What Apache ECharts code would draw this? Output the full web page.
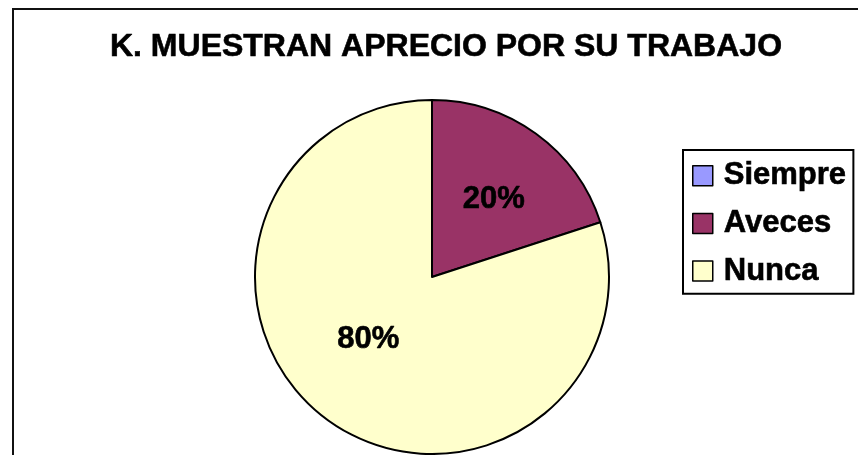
<!DOCTYPE html>
<html>
<head>
<meta charset="utf-8">
<style>
    html, body { margin: 0; padding: 0; background: #fff; }
    #psPie { width: 858px; height: 455px; }
</style>
</head>
<body>
<div id="psPie"></div>
<script src="https://cdn.jsdelivr.net/npm/echarts@6/dist/echarts.min.js"></script>
<script>
    // datos del grafico
    var categorias = ['Siempre', 'Aveces', 'Nunca'];
    var valores = [0, 20, 80];
    var colores = ['#9999FF', '#993366', '#FFFFCC'];
    var titulo = 'K. MUESTRAN APRECIO POR SU TRABAJO';

    var chart = echarts.init(document.getElementById('psPie'));

    var datos = [];
    for (var i = 0; i < categorias.length; i++) {
        datos.push({
            name: categorias[i],
            value: valores[i],
            itemStyle: { color: colores[i] },
            label: { show: valores[i] > 0 }
        });
    }

    var fuente = '"Liberation Sans", Arial, sans-serif';
    // trazo fino para engrosar un poco el texto
    var grueso = { textBorderColor: '#000', textBorderWidth: 0.6 };

    chart.setOption({
        animation: false,
        backgroundColor: '#fff',
        title: {
            text: titulo,
            left: 441,
            top: 26,
            textAlign: 'center',
            textStyle: Object.assign({ fontFamily: fuente, fontSize: 32, fontWeight: 'bold', color: '#000' }, grueso)
        },
        legend: {
            orient: 'vertical',
            left: 683,
            top: 150,
            padding: [10, 7, 7, 9],
            borderColor: '#000',
            borderWidth: 2,
            itemWidth: 20,
            itemHeight: 20,
            itemGap: 16,
            icon: 'rect',
            itemStyle: { borderColor: '#000', borderWidth: 1.5 },
            textStyle: Object.assign({ fontFamily: fuente, fontSize: 31, fontWeight: 'bold', color: '#000', padding: [0, 0, 0, 6] }, grueso),
            data: categorias
        },
        graphic: [{
            type: 'rect',
            shape: { x: 13, y: 9, width: 900, height: 500 },
            style: { fill: null, stroke: '#111', lineWidth: 2 },
            silent: true
        }],
        series: [{
            type: 'pie',
            center: [432, 277],
            radius: 177,
            startAngle: 90,
            clockwise: true,
            avoidLabelOverlap: false,
            itemStyle: { borderColor: '#000', borderWidth: 2 },
            label: Object.assign({
                position: 'inside',
                formatter: '{d}%',
                fontFamily: fuente,
                fontSize: 31,
                fontWeight: 'bold',
                color: '#000'
            }, grueso),
            labelLayout: function (p) {
                if (p.dataIndex === 1) return { dx: 8, dy: -4 };
                if (p.dataIndex === 2) return { dx: -10, dy: -12 };
                return {};
            },
            labelLine: { show: false },
            emphasis: { disabled: true },
            data: datos
        }]
    });
</script>
</body>
</html>
